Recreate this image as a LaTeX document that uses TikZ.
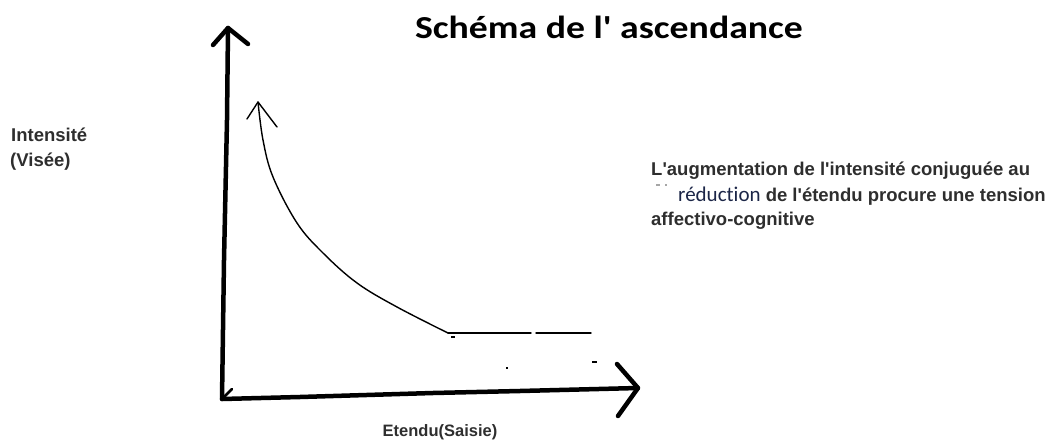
\documentclass[tikz,border=0pt]{standalone}
\usepackage{graphicx}
\usepackage{fontspec}
\setmainfont{Liberation Sans}
\newfontfamily\calfont{Carlito}[Ligatures=NoCommon]
\definecolor{txtgray}{HTML}{2E2E2E}
\definecolor{navy}{HTML}{1B2547}
\newcommand{\sq}{\textquotesingle}
\begin{document}
\begin{tikzpicture}[x=1pt,y=-1pt,
  axisline/.style={line width=4.5pt, line cap=round, line join=round},
  thinline/.style={line width=1.4pt, line cap=round, line join=round},
  lbl/.style={inner sep=0pt, text=txtgray, font=\bfseries\fontsize{18.5}{22}\selectfont, anchor=base west},
  speck/.style={fill=black, draw=none},
]
\useasboundingbox[fill=white] (0,0) rectangle (1062,441);

% title
\node[anchor=base, inner sep=0pt] (title) at (609,39)
  {\scalebox{1.18}[1]{\calfont\bfseries\fontsize{32}{36}\selectfont Schéma de l\sq{} ascendance}};

% axis labels
\node[lbl] (yl1) at (11,142) {Intensité};
\node[lbl] (yl2) at (10,166) {(Visée)};
\node[lbl, anchor=base, font=\bfseries\fontsize{16.5}{20}\selectfont] (xl) at (440,436) {Etendu(Saisie)};

% explanatory text
\node[lbl] (t1) at (651,175) {L\sq augmentation de l\sq intensité conjuguée au};
\node[lbl] (t2) at (678,201) {{\color{navy}\calfont\mdseries\fontsize{21}{24}\selectfont réduct\kern0pt ion} de l\sq étendu procure une tension};
\node[lbl] (t3) at (651,225) {affectivo-cognitive};
% faint marks before "reduction"
\fill[gray!70] (656,184.3) rectangle (660,185.5);
\fill[gray!70] (665,184.3) rectangle (667,185.5);

% axes
\coordinate (O) at (222,399);
\coordinate (ytip) at (228,28);
\coordinate (xtip) at (638,388);
\draw[axisline] (O) -- (224,260) -- (227,120) -- (ytip);
\draw[axisline] (213,45) -- (ytip) -- (248,44);
\draw[axisline] (O) -- (300,397) -- (433,393) -- (520,391) -- (xtip);
\draw[axisline] (617,364) -- (xtip) -- (618,416);
\draw[line width=2.5pt, line cap=round] (224,397) -- (232,389);

% curve
\coordinate (ctip) at (258,102);
\coordinate (cend) at (448,333);
\draw[thinline] plot[smooth, tension=0.6] coordinates {(ctip) (263,140) (273,177) (297,223) (323,253) (357,283) (397,307) (cend)};
\draw[thinline] (247,119) -- (ctip) -- (277,127);

% plateau
\coordinate (p1) at (531,333);
\coordinate (p2) at (536,333);
\coordinate (p3) at (591,333);
\draw[thinline] (cend) -- (p1);
\draw[thinline] (p2) -- (p3);
\fill[speck] (451,335.5) rectangle (455,337.5);
\fill[speck] (505.5,367) rectangle (507.5,369);
\fill[speck] (592,361) rectangle (597,363);
\end{tikzpicture}
\end{document}
